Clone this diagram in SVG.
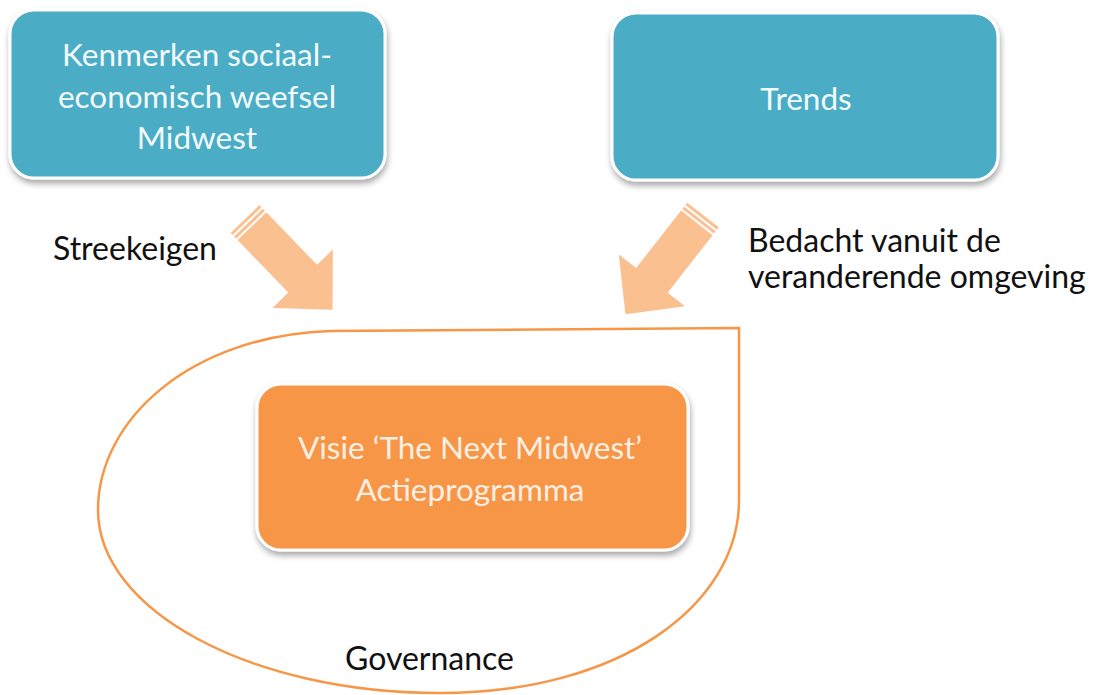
<svg xmlns="http://www.w3.org/2000/svg" width="1094" height="695" viewBox="0 0 1094 695">
<defs>
<filter id="sh" x="-10%" y="-10%" width="125%" height="130%">
<feGaussianBlur in="SourceAlpha" stdDeviation="3"/>
<feOffset dx="1" dy="4" result="b"/>
<feComponentTransfer><feFuncA type="linear" slope="0.35"/></feComponentTransfer>
<feMerge><feMergeNode/><feMergeNode in="SourceGraphic"/></feMerge>
</filter>
<g id="arrow">
<path d="M10,-20 L83,-20 L83,-42 L126,0 L83,42 L83,20 L10,20 Z"/>
<rect x="0" y="-20" width="3" height="40"/>
<rect x="5" y="-20" width="3" height="40"/>
</g>
</defs>
<style>
.blue{fill:#4BACC6;stroke:#fff;stroke-width:3;filter:url(#sh)}
.orange{fill:#F79646;stroke:#fff;stroke-width:3;filter:url(#sh)}
.wt{font-family:Lato,"Open Sans",sans-serif;font-size:31.5px;fill:#F2FAFC;text-anchor:middle}
.ot{font-family:Lato,"Open Sans",sans-serif;font-size:31.5px;fill:#FDEFE3;text-anchor:middle}
.lbl{font-family:Lato,"Open Sans",sans-serif;font-size:32px;fill:#111}
.arr{fill:#FAC090}
</style>
<g id="connectors">
<use href="#arrow" class="arr" transform="translate(245,219) rotate(46)"/>
<use href="#arrow" class="arr" transform="translate(703,215) rotate(128)"/>
</g>
<g id="governance">
<path d="M330,331 L739,328 L739,500 C739,605 620,693 440,693 C250,693 98,610 98,510 C98,420 190,336 330,331 Z" fill="none" stroke="#F79646" stroke-width="2.5"/>
<text class="lbl" x="345" y="670">Governance</text>
</g>
<g id="kenmerken">
<rect class="blue" x="10" y="10" width="375" height="168" rx="24"/>
<text class="wt" x="197" y="66">Kenmerken sociaal-</text>
<text class="wt" x="197" y="108">economisch weefsel</text>
<text class="wt" x="197" y="149">Midwest</text>
</g>
<g id="trends">
<rect class="blue" x="612" y="13" width="386" height="167" rx="24"/>
<text class="wt" x="806" y="110">Trends</text>
</g>
<g id="visie">
<rect class="orange" x="257" y="384" width="431" height="166" rx="24"/>
<text class="ot" x="470" y="459">Visie ‘The Next Midwest’</text>
<text class="ot" x="470" y="501">Actieprogramma</text>
</g>
<g id="labels">
<text class="lbl" x="53" y="260">Streekeigen</text>
<text class="lbl" x="748" y="252">Bedacht vanuit de</text>
<text class="lbl" x="748" y="288">veranderende omgeving</text>
</g>
</svg>
